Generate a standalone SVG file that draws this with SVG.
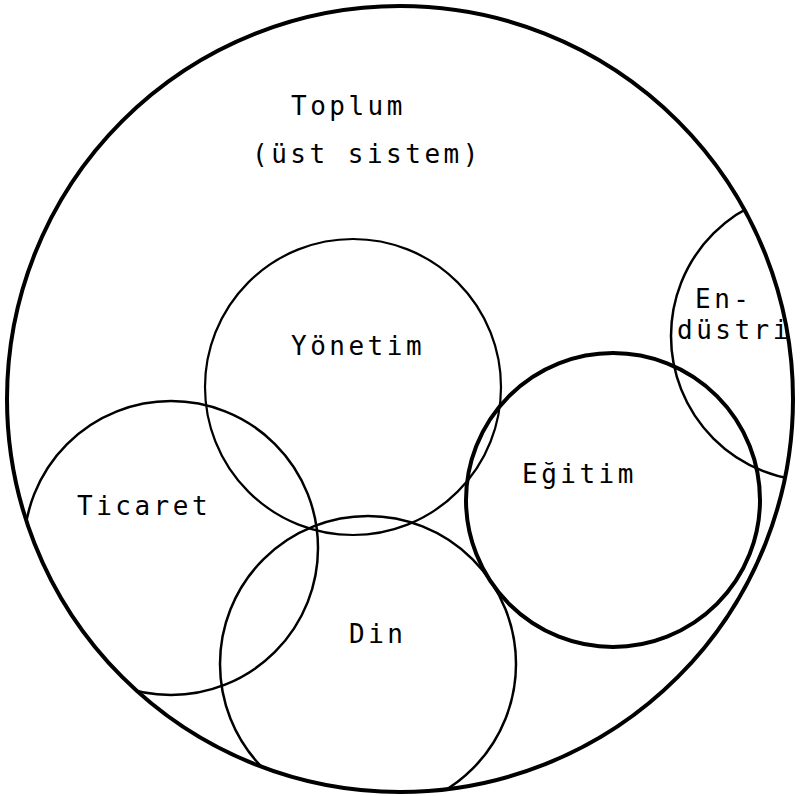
<svg xmlns="http://www.w3.org/2000/svg" width="800" height="796" viewBox="0 0 800 796">
  <style>
    .lbl { font-family: "DejaVu Sans Mono", "Liberation Mono", monospace; font-size: 26px; letter-spacing: 3.5px; fill: #000; }
    .sub { fill: none; stroke: #000; stroke-width: 2.5; }
    .thick { stroke-width: 4; }
    .thin { stroke-width: 2.2; }
    .outer { fill: none; stroke: #000; stroke-width: 4; }
  </style>
  <defs>
    <clipPath id="inside">
      <circle cx="400" cy="399" r="393"/>
    </clipPath>
  </defs>
  <rect width="800" height="796" fill="#fff"/>
  <g id="toplum">
    <circle class="outer" cx="400" cy="399" r="393"/>
    <text class="lbl" x="291" y="115">Toplum</text>
    <text class="lbl" x="252" y="163">(üst sistem)</text>
  </g>
  <g clip-path="url(#inside)">
    <g id="yonetim">
      <circle class="sub thin" cx="353" cy="387" r="148"/>
      <text class="lbl" x="291" y="355">Yönetim</text>
    </g>
    <g id="ticaret">
      <circle class="sub" cx="171" cy="548" r="147"/>
      <text class="lbl" x="77" y="515">Ticaret</text>
    </g>
    <g id="din">
      <circle class="sub" cx="368" cy="664" r="148"/>
      <text class="lbl" x="349" y="643">Din</text>
    </g>
    <g id="egitim">
      <circle class="sub thick" cx="613" cy="500" r="147"/>
      <text class="lbl" x="522" y="483">Eğitim</text>
    </g>
    <g id="endustri">
      <circle class="sub" cx="816" cy="336" r="145"/>
      <text class="lbl" x="695" y="308">En-</text>
      <text class="lbl" x="677" y="339">düstri</text>
    </g>
  </g>
</svg>
